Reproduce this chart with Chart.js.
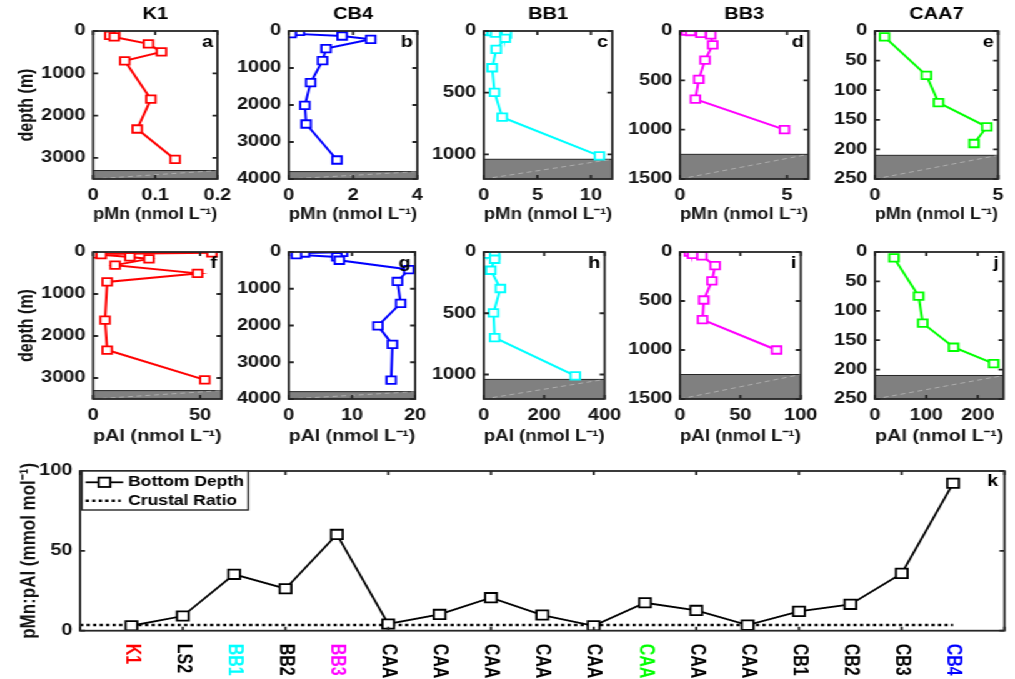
<!DOCTYPE html>
<html>
<head>
<meta charset="utf-8">
<script src="https://cdn.jsdelivr.net/npm/chart.js@4.4.1/dist/chart.umd.min.js"></script>
<style>
  html, body { margin:0; padding:0; background:#fff; overflow:hidden; }
  #fig { position:absolute; left:0; top:0; width:812px; height:679px; transform:scaleX(1.25); transform-origin:0 0; }
  #fig canvas { position:absolute; }
</style>
</head>
<body>
<div id="fig"></div>
<script>
// profils : profondeur (m) et concentration (nmol/L)
const profileStations = ['K1', 'CB4', 'BB1', 'BB3', 'CAA7'];

const k1MnDepth = [39, 102, 141, 305, 493, 705, 1613, 2318, 3038];
const k1Mn      = [0.035, 0.027, 0.034, 0.089, 0.110, 0.051, 0.093, 0.071, 0.132];
const k1AlDepth = [20, 47, 63, 117, 164, 313, 509, 713, 1621, 2334, 3046];
const k1Al      = [55.5, 1.9, 3.8, 17.2, 26.1, 10.3, 48.8, 6.6, 5.6, 6.6, 52.2];

const cb4Depth = [9, 27, 72, 135, 225, 477, 802, 1396, 2009, 2514, 3486];
const cb4Mn    = [0.33, 0.07, 0.07, 1.66, 2.55, 1.16, 1.05, 0.68, 0.50, 0.54, 1.50];
const cb4Al    = [8.5, 2.5, 1.2, 7.6, 8.0, 19.0, 17.2, 17.7, 14.1, 16.4, 16.2];

const bb1Depth = [2, 5, 18, 26, 59, 149, 298, 497, 699, 1012];
const bb1Mn    = [0.13, 0.78, 1.1, 2.1, 2.0, 1.16, 0.78, 1.0, 1.72, 10.8];
const bb1Al    = [5, 14.5, 12.5, 36, 36, 23, 55, 32, 36, 303];

const bb3Depth = [2, 5, 25, 40, 140, 295, 490, 690, 1000];
const bb3Mn    = [0.31, 0.5, 0.98, 1.44, 1.53, 1.17, 0.88, 0.72, 4.88];
const bb3Al    = [7.8, 10.9, 10.4, 18.2, 29.1, 26.5, 19.7, 18.7, 80];

const caa7Depth = [10, 75, 121, 162, 190];
const caa7Mn    = [0.39, 2.09, 2.58, 4.54, 4.02];
const caa7Al    = [37, 85, 93, 153, 231];

// fond marin (gris) et bornes des axes
const bottomDepth = [3300, 3800, 1040, 1250, 210];
const depthMax = [3500, 4000, 1200, 1500, 250];
const mnMax = [0.2, 4, 12, 6, 5];
const alMax = [60, 20, 400, 100, 250];

// graduations
const depthTicks = [[0, 1000, 2000, 3000], [0, 1000, 2000, 3000, 4000], [0, 500, 1000], [0, 500, 1000, 1500], [0, 50, 100, 150, 200, 250]];
const mnTicks = [[0, 0.1, 0.2], [0, 2, 4], [0, 5, 10], [0, 5], [0, 5]];
const alTicks = [[0, 50], [0, 10, 20], [0, 200, 400], [0, 50, 100], [0, 100, 200]];
const ratioTicks = [0, 50, 100];

// panneau k : rapport pMn:pAl au fond
const stations = ['K1', 'LS2', 'BB1', 'BB2', 'BB3', 'CAA', 'CAA', 'CAA', 'CAA', 'CAA', 'CAA', 'CAA', 'CAA', 'CB1', 'CB2', 'CB3', 'CB4'];
const ratio = [3.1, 9.2, 35.3, 26.3, 60.3, 4.2, 10.2, 20.7, 9.8, 3.1, 17.5, 12.7, 3.5, 12.1, 16.5, 35.9, 92.3];
const crustalRatio = 3.6;

const mnSeries = [k1Mn, cb4Mn, bb1Mn, bb3Mn, caa7Mn];
const mnDepths = [k1MnDepth, cb4Depth, bb1Depth, bb3Depth, caa7Depth];
const alSeries = [k1Al, cb4Al, bb1Al, bb3Al, caa7Al];
const alDepths = [k1AlDepth, cb4Depth, bb1Depth, bb3Depth, caa7Depth];

// mise en page (px de la figure, étirée en largeur)
const SX = 1.25;
const FONT = '"Liberation Sans", Arial, Helvetica, sans-serif';
const INK = '#262626';
const TICK = 4;
const COLORS = ['#ff0000', '#0000ff', '#00ffff', '#ff00ff', '#00ff00'];
const LABEL_COLORS = { 0: '#ff0000', 2: '#00ffff', 4: '#ff00ff', 10: '#00ff00', 16: '#0000ff' };
const LETTERS = [['a', 'b', 'c', 'd', 'e'], ['f', 'g', 'h', 'i', 'j']];
const PLOT_LEFT = [93, 288.3, 484.3, 680, 875];
const PLOT_W = 128.5;
const ROWS = [
  { top: 0, plotTop: 31, plotBottom: 179, titlePad: 2.4 },
  { top: 222, plotTop: 252, plotBottom: 399, titlePad: 0.4 }
];
const XAX_H = 48;

Chart.defaults.font.family = FONT;
Chart.defaults.font.weight = 'bold';
Chart.defaults.font.size = 16;
Chart.defaults.color = '#141414';

const fig = document.getElementById('fig');

function addCanvas(left, top, w, h) {
  const c = document.createElement('canvas');
  c.width = w; c.height = h;
  c.style.left = left + 'px';
  c.style.top = top + 'px';
  fig.appendChild(c);
  return c;
}

// cadre, graduations intérieures, fond marin, lettre du panneau
const frame = {
  id: 'frame',
  beforeDatasetsDraw(chart, args, o) {
    if (o.floor == null) return;
    const { ctx, chartArea: a, scales: { y } } = chart;
    const yf = y.getPixelForValue(o.floor);
    ctx.save();
    ctx.fillStyle = '#808080';
    ctx.fillRect(a.left, yf, a.right - a.left, a.bottom - yf);
    ctx.strokeStyle = INK; ctx.lineWidth = 1;
    ctx.beginPath(); ctx.moveTo(a.left, yf); ctx.lineTo(a.right, yf); ctx.stroke();
    ctx.strokeStyle = 'rgba(255,255,255,0.45)'; ctx.lineWidth = 0.8; ctx.setLineDash([4, 3]);
    ctx.beginPath(); ctx.moveTo(a.left, a.bottom); ctx.lineTo(a.right, yf); ctx.stroke();
    ctx.restore();
  },
  afterDraw(chart, args, o) {
    const { ctx, chartArea: a, scales: { x, y } } = chart;
    ctx.save();
    ctx.strokeStyle = INK; ctx.lineWidth = 1.8;
    ctx.beginPath();
    x.ticks.forEach(t => {
      const p = x.getPixelForValue(t.value);
      ctx.moveTo(p, a.bottom); ctx.lineTo(p, a.bottom - TICK);
      ctx.moveTo(p, a.top); ctx.lineTo(p, a.top + TICK);
    });
    y.ticks.forEach(t => {
      const p = y.getPixelForValue(t.value);
      ctx.moveTo(a.left, p); ctx.lineTo(a.left + TICK, p);
      ctx.moveTo(a.right, p); ctx.lineTo(a.right - TICK, p);
    });
    ctx.stroke();
    ctx.strokeRect(a.left, a.top, a.right - a.left, a.bottom - a.top);
    if (o.letter) {
      ctx.fillStyle = '#000';
      ctx.font = `bold 16px ${FONT}`;
      ctx.textAlign = 'right'; ctx.textBaseline = 'middle';
      ctx.fillText(o.letter, a.right - (o.letterDx || 3.5), a.top + (o.letterDy || 12));
    }
    ctx.restore();
  }
};

function profile(row, i) {
  const r = ROWS[row];
  const lu = PLOT_LEFT[i] / SX;
  const yw = i === 0 ? lu : 50;
  const pw = PLOT_W / SX;
  const W = Math.ceil(yw + pw + (i === 4 ? 7 : 14));
  const H = r.plotBottom - r.top + XAX_H;
  const vals = row === 0 ? mnSeries[i] : alSeries[i];
  const depths = row === 0 ? mnDepths[i] : alDepths[i];
  const xTicks = row === 0 ? mnTicks[i] : alTicks[i];
  const cv = addCanvas(lu - yw, r.top, W, H);
  new Chart(cv, {
    type: 'scatter',
    data: {
      datasets: [{
        data: vals.map((v, k) => ({ x: v, y: depths[k] })),
        showLine: true, borderColor: COLORS[i], borderWidth: 2,
        pointStyle: 'rect', pointRadius: 5.3, pointBorderWidth: 1.8,
        pointBackgroundColor: '#fff', pointBorderColor: COLORS[i]
      }]
    },
    options: {
      responsive: false, animation: false, events: [],
      layout: { padding: { left: 0, top: row === 0 ? 0 : r.plotTop - r.top, right: W - yw - pw, bottom: 0 } },
      plugins: {
        legend: { display: false }, tooltip: { enabled: false },
        title: {
          display: row === 0, text: profileStations[i], fullSize: false, color: '#000',
          font: { size: 16, weight: 'bold' }, padding: { top: 4.7, bottom: 31 - 4.7 - 19.2 }
        },
        frame: { floor: bottomDepth[i], letter: LETTERS[row][i] }
      },
      scales: {
        x: {
          type: 'linear', min: 0, max: (row === 0 ? mnMax : alMax)[i],
          grid: { display: false, drawTicks: false }, border: { display: false },
          afterBuildTicks: s => { s.ticks = xTicks.map(v => ({ value: v })); },
          afterFit: s => { s.height = XAX_H; },
          ticks: { padding: 7, autoSkip: false, maxRotation: 0, callback: v => String(v) },
          title: { display: true, text: row === 0 ? 'pMn (nmol L⁻¹)' : 'pAl (nmol L⁻¹)', padding: { top: 0, bottom: r.titlePad } }
        },
        y: {
          type: 'linear', reverse: true, min: 0, max: depthMax[i],
          grid: { display: false, drawTicks: false }, border: { display: false },
          afterBuildTicks: s => { s.ticks = depthTicks[i].map(v => ({ value: v })); },
          afterFit: s => { s.width = yw; },
          ticks: { padding: 6, autoSkip: false, callback: v => String(v) },
          title: { display: i === 0, text: 'depth (m)', padding: { top: 12, bottom: 0 } }
        }
      }
    },
    plugins: [frame]
  });
}

for (let row = 0; row < 2; row++) for (let i = 0; i < 5; i++) profile(row, i);

// panneau k : légende et noms des stations
const legendBox = {
  id: 'legendBox',
  afterDraw(chart) {
    const { ctx, chartArea: a } = chart;
    const [d0, d1] = chart.data.datasets;
    const x0 = a.left + 1.5, y0 = a.top, w = 133, h = 39;
    ctx.save();
    ctx.fillStyle = '#fff'; ctx.fillRect(x0, y0, w, h);
    ctx.strokeStyle = INK; ctx.lineWidth = 1.4; ctx.strokeRect(x0, y0, w, h);
    const r1 = y0 + 11.3, r2 = y0 + 29.7;
    ctx.strokeStyle = '#000'; ctx.lineWidth = d0.borderWidth;
    ctx.beginPath(); ctx.moveTo(x0 + 3, r1); ctx.lineTo(x0 + 33, r1); ctx.stroke();
    const m = d0.pointRadius * Math.SQRT1_2;
    ctx.fillStyle = '#fff';
    ctx.fillRect(x0 + 18 - m, r1 - m, 2 * m, 2 * m);
    ctx.strokeRect(x0 + 18 - m, r1 - m, 2 * m, 2 * m);
    ctx.lineWidth = d1.borderWidth; ctx.setLineDash(d1.borderDash);
    ctx.beginPath(); ctx.moveTo(x0 + 3, r2); ctx.lineTo(x0 + 31, r2); ctx.stroke();
    ctx.fillStyle = '#000';
    ctx.font = `bold 14px ${FONT}`;
    ctx.textAlign = 'left'; ctx.textBaseline = 'middle';
    ctx.fillText(d0.label, x0 + 37, r1);
    ctx.fillText(d1.label, x0 + 37, r2);
    ctx.restore();
  }
};

const stationLabels = {
  id: 'stationLabels',
  afterDraw(chart) {
    const { ctx, chartArea: a, scales: { x } } = chart;
    ctx.save();
    ctx.font = `bold 16px ${FONT}`;
    ctx.textAlign = 'left'; ctx.textBaseline = 'middle';
    stations.forEach((s, i) => {
      ctx.save();
      ctx.translate(x.getPixelForValue(i + 1), a.bottom + 13);
      ctx.rotate(Math.PI / 2);
      ctx.fillStyle = LABEL_COLORS[i] || '#000';
      ctx.fillText(s, 0, 0);
      ctx.restore();
    });
    ctx.restore();
  }
};

const kLeft = 80 / SX, kRight = 1013.3 / SX;
const kc = addCanvas(0, 455, 812, 224);
new Chart(kc, {
  type: 'scatter',
  data: {
    datasets: [
      {
        label: 'Bottom Depth', data: ratio.map((v, i) => ({ x: i + 1, y: v })),
        showLine: true, borderColor: '#000', borderWidth: 1.8,
        pointStyle: 'rect', pointRadius: 6.6, pointBorderWidth: 1.8,
        pointBackgroundColor: '#fff', pointBorderColor: '#000'
      },
      {
        label: 'Crustal Ratio', data: [{ x: 0, y: crustalRatio }, { x: stations.length, y: crustalRatio }],
        showLine: true, borderColor: '#000', borderWidth: 2.6, borderDash: [2.6, 2.6], pointRadius: 0
      }
    ]
  },
  options: {
    responsive: false, animation: false, events: [],
    layout: { padding: { left: 0, top: 16, right: 812 - kRight, bottom: 0 } },
    plugins: {
      legend: { display: false }, tooltip: { enabled: false },
      frame: { letter: 'k', letterDx: 5, letterDy: 10.7 }
    },
    scales: {
      x: {
        type: 'linear', min: 0, max: stations.length + 1,
        grid: { display: false, drawTicks: false }, border: { display: false },
        ticks: { display: false, stepSize: 2 },
        afterFit: s => { s.height = 224 - 16 - 159.7; }
      },
      y: {
        type: 'linear', min: 0, max: 100,
        grid: { display: false, drawTicks: false }, border: { display: false },
        afterBuildTicks: s => { s.ticks = ratioTicks.map(v => ({ value: v })); },
        afterFit: s => { s.width = kLeft; },
        ticks: { padding: 6, autoSkip: false, callback: v => String(v) },
        title: { display: true, text: 'pMn:pAl (mmol mol⁻¹)', font: { size: 17, weight: 'bold' }, padding: { top: 13, bottom: 0 } }
      }
    }
  },
  plugins: [frame, legendBox, stationLabels]
});
</script>
</body>
</html>
